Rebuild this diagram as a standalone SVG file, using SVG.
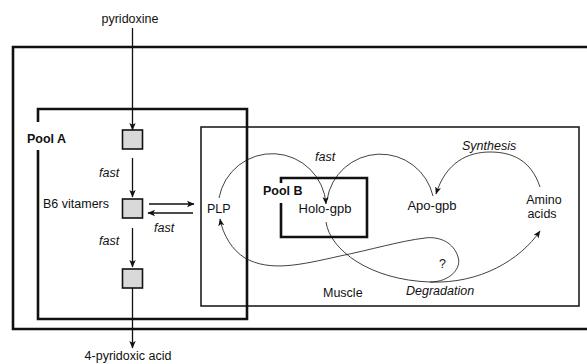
<svg xmlns="http://www.w3.org/2000/svg" width="587" height="364" viewBox="0 0 587 364">
<defs>
<style>
text{font-family:"Liberation Sans",Arial,sans-serif;font-size:12.5px;fill:#111}
.b{font-weight:bold}
.i{font-style:italic}
.box{fill:none;stroke:#111;stroke-width:2.6}
.thin{fill:none;stroke:#111;stroke-width:1.5}
.sq{fill:#d9d9d9;stroke:#111;stroke-width:1.6}
.ar{fill:none;stroke:#111;stroke-width:1.3}
.cv{fill:none;stroke:#111;stroke-width:0.8}
</style>
<marker id="ah" markerWidth="8" markerHeight="8" refX="7" refY="4" orient="auto" markerUnits="userSpaceOnUse">
<path d="M0,0.8 L7.5,4 L0,7.2 L1.8,4 Z" fill="#111"/>
</marker>
<marker id="ahs" markerWidth="8" markerHeight="8" refX="7" refY="4" orient="auto" markerUnits="userSpaceOnUse">
<path d="M0,1 L7.5,4 L0,7 L1.8,4 Z" fill="#111"/>
</marker>
</defs>
<g id="outer">
<path class="box" d="M595 47 L13 47 L13 329 L595 329"/>
</g>
<g id="poolA">
<path class="box" d="M38 122 L38 109 L247 109 L247 319 L38 319 L38 150"/>
<text class="b" x="27" y="143">Pool A</text>
</g>
<g id="muscle">
<rect class="thin" x="201" y="127" width="378" height="179"/>
<text x="323" y="297">Muscle</text>
</g>
<g id="poolB">
<path class="box" d="M281 183 L281 178 L367 178 L367 237 L281 237 L281 203"/>
<text class="b" x="263" y="195">Pool B</text>
</g>
<g id="pyridoxine"><text x="130" y="23" text-anchor="middle">pyridoxine</text></g>
<g id="sq1"><rect class="sq" x="122.5" y="130" width="20" height="19"/></g>
<g id="sq2"><rect class="sq" x="122.5" y="199" width="20" height="19"/>
<text x="43" y="208">B6 vitamers</text></g>
<g id="sq3"><rect class="sq" x="122.5" y="269" width="20" height="19"/></g>
<g id="pyridoxic"><text x="128" y="360" text-anchor="middle">4-pyridoxic acid</text></g>
<g id="plp"><text x="207" y="213">PLP</text></g>
<g id="holo"><text x="325" y="213" text-anchor="middle" style="font-size:13px">Holo-gpb</text></g>
<g id="apo"><text x="432" y="210" text-anchor="middle" style="font-size:13px">Apo-gpb</text></g>
<g id="amino"><text x="544" y="204" text-anchor="middle">Amino</text><text x="542" y="218" text-anchor="middle">acids</text></g>
<g id="connectors">
<line class="ar" x1="132.5" y1="28" x2="132.5" y2="130" marker-end="url(#ah)"/>
<line class="ar" x1="132.5" y1="158" x2="132.5" y2="197" marker-end="url(#ah)"/>
<line class="ar" x1="132.5" y1="228" x2="132.5" y2="267" marker-end="url(#ah)"/>
<line class="ar" x1="132.5" y1="288" x2="132.5" y2="348" marker-end="url(#ah)"/>
<line class="ar" x1="149" y1="204" x2="194" y2="204" marker-end="url(#ah)"/>
<line class="ar" x1="193" y1="213" x2="148" y2="213" marker-end="url(#ah)"/>
<path class="cv" d="M219 198 A54 54 0 0 1 326 204" marker-end="url(#ahs)"/>
<path class="cv" d="M433 196 A54 54 0 0 0 327 200"/>
<path class="cv" d="M540 187 C531 160 512 152 490 152 C468 152 446 162 436 194" marker-end="url(#ahs)"/>
<path class="cv" d="M326 222 C330 250 370 280 430 282 C480 284 520 260 540 231" marker-end="url(#ahs)"/>
<path class="cv" d="M430 282 C450 282 462 268 458 257 C454 243 440 236 425 238 C400 241 370 250 340 256 C300 265 270 272 245 258 C232 250 223 235 220 219" marker-end="url(#ahs)"/>
<text class="i" x="99" y="177">fast</text>
<text class="i" x="99" y="245">fast</text>
<text class="i" x="154" y="232">fast</text>
<text class="i" x="315" y="161">fast</text>
<text class="i" x="462" y="150">Synthesis</text>
<text class="i" x="406" y="295">Degradation</text>
<text x="439" y="268">?</text>
</g>
</svg>
